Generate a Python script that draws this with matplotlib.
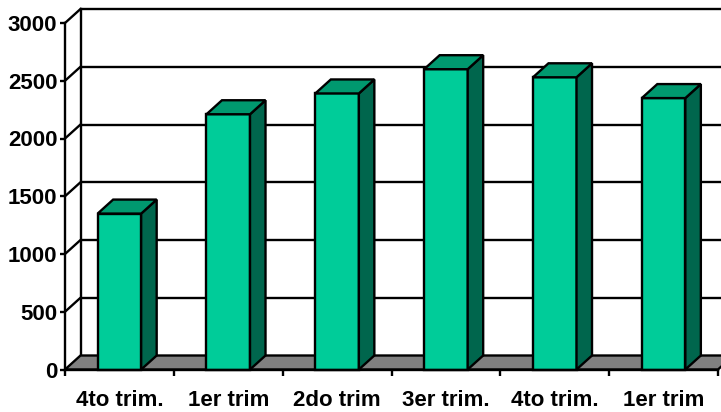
import matplotlib
matplotlib.use('Agg')
import matplotlib.pyplot as plt
from matplotlib.patches import Polygon
import numpy as np

# Datos por trimestre
categories = ['4to trim.', '1er trim', '2do trim', '3er trim.', '4to trim.', '1er trim']
values = [1350, 2210, 2390, 2600, 2530, 2350]
y_ticks = [0, 500, 1000, 1500, 2000, 2500, 3000]

FRONT = '#00CC99'
TOP = '#00996F'
SIDE = '#00664D'
FLOOR = '#808080'
LW = 1.7

plt.rcParams['font.family'] = ['Liberation Sans', 'DejaVu Sans']
plt.rcParams['font.weight'] = 'bold'

W, H = 721, 412
fig = plt.figure(figsize=(W / 100, H / 100), dpi=100)
ax_w, ax_h = 653, 346.5
ax = fig.add_axes([65 / W, (H - 369.5) / H, ax_w / W, ax_h / H])

n = len(categories)
x = np.arange(n)
ymax = y_ticks[-1]
ax.set_xlim(-0.5, n - 0.5)
ax.set_ylim(0, ymax)

# profundidad del efecto 3D (pixeles -> unidades de datos)
ddx = 15.5 / (ax_w / n)
ddy = 14 / (ax_h / ymax)
x0, x1 = -0.5, n - 0.5

# pared del fondo y lineas de division
for t in y_ticks[1:]:
    ax.plot([x0 + ddx, x1 + ddx], [t + ddy, t + ddy], color='black', lw=LW,
            clip_on=False, zorder=1, solid_capstyle='butt')
for t in y_ticks[1:]:
    ax.plot([x0, x0 + ddx], [t, t + ddy], color='black', lw=LW,
            clip_on=False, zorder=1)
ax.plot([x0 + ddx, x0 + ddx], [ddy, ymax + ddy], color='black', lw=LW,
        clip_on=False, zorder=1)

# piso
floor = Polygon([(x0, 0), (x1, 0), (x1 + ddx, ddy), (x0 + ddx, ddy)],
                closed=True, facecolor=FLOOR, edgecolor='black', lw=LW,
                clip_on=False, zorder=2)
ax.add_patch(floor)

# barras
bw = 0.4
ax.bar(x, values, width=bw, color=FRONT, edgecolor='black', linewidth=LW,
       zorder=3, clip_on=False)
for xi, v in zip(x, values):
    xl, xr = xi - bw / 2, xi + bw / 2
    top = Polygon([(xl, v), (xr, v), (xr + ddx, v + ddy), (xl + ddx, v + ddy)],
                  closed=True, facecolor=TOP, edgecolor='black', lw=LW,
                  clip_on=False, zorder=3, joinstyle='miter')
    side = Polygon([(xr, 0), (xr, v), (xr + ddx, v + ddy), (xr + ddx, ddy)],
                   closed=True, facecolor=SIDE, edgecolor='black', lw=LW,
                   clip_on=False, zorder=3, joinstyle='miter')
    ax.add_patch(side)
    ax.add_patch(top)

for s in ['top', 'right']:
    ax.spines[s].set_visible(False)
for s in ['left', 'bottom']:
    ax.spines[s].set_linewidth(LW)
    ax.spines[s].set_zorder(4)
ax.patch.set_visible(False)

ax.set_yticks(y_ticks)
ax.tick_params(axis='y', direction='out', length=3.5, width=LW, pad=2,
               labelsize=16)
ax.set_xticks(x, categories)
ax.set_xticks(np.arange(n + 1) - 0.5, minor=True)
ax.tick_params(axis='x', which='major', length=0, pad=14.5, labelsize=16)
ax.tick_params(axis='x', which='minor', direction='out', length=4, width=LW)
for lbl in ax.get_xticklabels() + ax.get_yticklabels():
    lbl.set_fontweight('bold')

fig.savefig('out.png', dpi=100)
